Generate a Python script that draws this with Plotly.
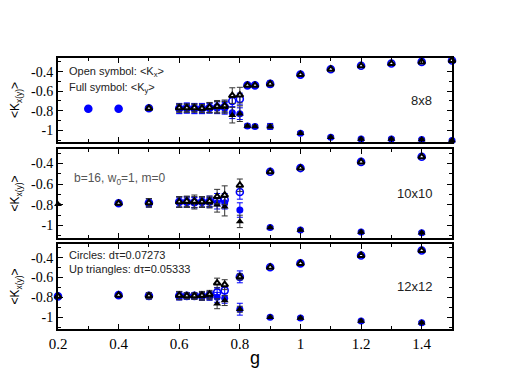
import plotly.graph_objects as go
from plotly.subplots import make_subplots

# ---- 8x8 ----
g8_c = [0.3, 0.4, 0.5, 0.6, 0.625, 0.65, 0.675, 0.7, 0.725, 0.75, 0.775, 0.8, 0.825, 0.85, 0.9, 1.0, 1.1, 1.2, 1.3, 1.4, 1.5]
kx8_c = [-0.78, -0.78, -0.775, -0.775, -0.77, -0.775, -0.775, -0.77, -0.765, -0.76, -0.70, -0.68, -0.54, -0.54, -0.525, -0.43, -0.375, -0.34, -0.317, -0.30, -0.285]
ky8_c = [-0.78, -0.78, -0.775, -0.78, -0.775, -0.78, -0.78, -0.775, -0.77, -0.775, -0.82, -0.83, -0.955, -0.96, -0.96, -1.03, -1.07, -1.09, -1.09, -1.095, -1.105]
e8_c = [0.01, 0.01, 0.02, 0.05, 0.05, 0.05, 0.05, 0.05, 0.06, 0.06, 0.06, 0.06, 0.02, 0.02, 0.03, 0.015, 0.01, 0.01, 0.01, 0.01, 0.01]
g8_t = [0.5, 0.6, 0.625, 0.65, 0.675, 0.7, 0.725, 0.75, 0.775, 0.8, 0.825, 0.85, 0.9, 1.0, 1.1, 1.2, 1.3, 1.4, 1.5]
kx8_t = [-0.775, -0.77, -0.77, -0.77, -0.775, -0.765, -0.755, -0.75, -0.645, -0.64, -0.54, -0.54, -0.525, -0.43, -0.375, -0.34, -0.317, -0.30, -0.285]
ky8_t = [-0.775, -0.775, -0.775, -0.775, -0.78, -0.77, -0.765, -0.765, -0.845, -0.83, -0.955, -0.96, -0.96, -1.03, -1.07, -1.09, -1.09, -1.095, -1.105]
e8_t = [0.02, 0.04, 0.04, 0.04, 0.04, 0.05, 0.06, 0.06, 0.08, 0.08, 0.01, 0.01, 0.02, 0.01, 0.01, 0.01, 0.01, 0.01, 0.01]

# ---- 10x10 ----
g10_c = [0.4, 0.5, 0.6, 0.625, 0.65, 0.675, 0.7, 0.725, 0.75, 0.8, 0.9, 1.0, 1.2, 1.4]
kx10_c = [-0.785, -0.78, -0.77, -0.77, -0.775, -0.77, -0.765, -0.75, -0.75, -0.675, -0.48, -0.444, -0.384, -0.334]
ky10_c = [-0.785, -0.78, -0.775, -0.775, -0.78, -0.775, -0.775, -0.78, -0.78, -0.85, -1.02, -1.044, -1.063, -1.07]
e10_c = [0.015, 0.04, 0.05, 0.05, 0.05, 0.05, 0.05, 0.06, 0.06, 0.07, 0.01, 0.01, 0.01, 0.01]
g10_t = [0.2, 0.4, 0.5, 0.6, 0.625, 0.65, 0.675, 0.7, 0.725, 0.75, 0.8, 0.9, 1.0, 1.2, 1.4]
kx10_t = [None, -0.785, -0.78, -0.77, -0.765, -0.765, -0.77, -0.765, -0.72, -0.706, -0.61, -0.48, -0.444, -0.384, -0.334]
ky10_t = [-0.795, -0.785, -0.78, -0.775, -0.775, -0.78, -0.775, -0.78, -0.8, -0.817, -0.96, -1.02, -1.044, -1.063, -1.07]
e10_t = [0.005, 0.015, 0.04, 0.05, 0.05, 0.06, 0.05, 0.05, 0.07, 0.09, 0.06, 0.01, 0.01, 0.01, 0.01]

# ---- 12x12 ----
g12_c = [0.2, 0.4, 0.5, 0.6, 0.625, 0.65, 0.675, 0.7, 0.725, 0.75, 0.8, 0.9, 1.0, 1.2, 1.4]
kx12_c = [-0.79, -0.778, -0.785, -0.785, -0.785, -0.785, -0.785, -0.78, -0.75, -0.73, -0.593, -0.496, -0.457, -0.377, -0.326]
ky12_c = [-0.79, -0.778, -0.785, -0.785, -0.79, -0.79, -0.79, -0.79, -0.80, -0.81, -0.92, -1.0, -1.01, -1.04, -1.057]
e12_c = [0.01, 0.01, 0.03, 0.04, 0.03, 0.03, 0.04, 0.04, 0.05, 0.05, 0.06, 0.01, 0.01, 0.01, 0.01]
g12_t = [0.2, 0.4, 0.5, 0.6, 0.625, 0.65, 0.675, 0.7, 0.725, 0.75, 0.8, 0.9, 1.0, 1.2, 1.4]
kx12_t = [-0.79, -0.778, -0.785, -0.78, -0.785, -0.785, -0.78, -0.77, -0.656, -0.672, -0.593, -0.496, -0.457, -0.377, -0.326]
ky12_t = [-0.79, -0.778, -0.785, -0.785, -0.785, -0.79, -0.79, -0.785, -0.865, -0.833, -0.92, -1.0, -1.01, -1.04, -1.057]
e12_t = [0.005, 0.01, 0.03, 0.04, 0.03, 0.03, 0.04, 0.04, 0.05, 0.05, 0.03, 0.01, 0.01, 0.01, 0.01]

panels = [
    (g8_c, kx8_c, ky8_c, e8_c, g8_t, kx8_t, ky8_t, e8_t),
    (g10_c, kx10_c, ky10_c, e10_c, g10_t, kx10_t, ky10_t, e10_t),
    (g12_c, kx12_c, ky12_c, e12_c, g12_t, kx12_t, ky12_t, e12_t),
]
size_labels = ['8x8', '10x10', '12x12']

x_ticks = [0.2, 0.4, 0.6, 0.8, 1.0, 1.2, 1.4]
x_ticktext = ['0.2', '0.4', '0.6', '0.8', '1', '1.2', '1.4']
y_ticks = [-1.0, -0.8, -0.6, -0.4]
y_ticktext = ['-1', '-0.8', '-0.6', '-0.4']

BLUE = '#0000ff'
SERIF = 'Liberation Serif'
SANS = 'Liberation Sans'
fig = make_subplots(rows=3, cols=1, shared_xaxes=True)

for i, (gc, kxc, kyc, ec, gt, kxt, kyt, et) in enumerate(panels):
    r = i + 1
    # circles: filled = Ky, open = Kx
    fig.add_trace(go.Scatter(x=gc, y=kyc, mode='markers', cliponaxis=False,
                             marker=dict(symbol='circle', size=7, color=BLUE),
                             error_y=dict(type='data', array=ec, color=BLUE, thickness=1, width=3)),
                  row=r, col=1)
    fig.add_trace(go.Scatter(x=gc, y=kxc, mode='markers', cliponaxis=False,
                             marker=dict(symbol='circle-open', size=7, color=BLUE, line=dict(width=1.6)),
                             error_y=dict(type='data', array=ec, color=BLUE, thickness=1, width=3)),
                  row=r, col=1)
    # triangles: filled = Ky, open = Kx
    fig.add_trace(go.Scatter(x=gt, y=kyt, mode='markers', cliponaxis=False,
                             marker=dict(symbol='triangle-up', size=7, color='black'),
                             error_y=dict(type='data', array=et, color='#333333', thickness=1, width=3)),
                  row=r, col=1)
    fig.add_trace(go.Scatter(x=gt, y=kxt, mode='markers', cliponaxis=False,
                             marker=dict(symbol='triangle-up', size=6, color='white',
                                         line=dict(color='black', width=2)),
                             error_y=dict(type='data', array=et, color='#333333', thickness=1, width=3)),
                  row=r, col=1)

domains = [[0.690, 1.0], [0.336, 0.664], [0.0, 0.314]]
axis_common = dict(showline=True, linecolor='black', linewidth=2, mirror='allticks',
                   ticks='inside', ticklen=5, tickcolor='black', showgrid=False, zeroline=False,
                   automargin=False)
for i in range(3):
    r = i + 1
    fig.update_xaxes(range=[0.2, 1.5], tickvals=x_ticks, ticktext=x_ticktext,
                     showticklabels=(r == 3),
                     tickfont=dict(family=SERIF, size=15, color='black'),
                     minor=dict(dtick=0.1, tick0=0, ticks='inside', ticklen=3, tickcolor='black'),
                     row=r, col=1, **axis_common)
    fig.update_yaxes(range=[-1.12, -0.26], tickvals=y_ticks, ticktext=y_ticktext,
                     domain=domains[i],
                     tickfont=dict(family=SERIF, size=14, color='black'),
                     minor=dict(dtick=0.1, tick0=0, ticks='inside', ticklen=3, tickcolor='black'),
                     title=dict(text='&lt;K<sub>x(y)</sub>&gt;', standoff=12,
                                font=dict(family=SANS, size=12, color='black')),
                     row=r, col=1, **axis_common)
    fig.add_annotation(text=size_labels[i], xref='x domain', yref='y domain',
                       x=0.955, y=0.5, xanchor='right', yanchor='middle', showarrow=False,
                       font=dict(family=SANS, size=13, color='#222222'),
                       row=r, col=1)

fig.update_xaxes(title=dict(text='g', standoff=0,
                            font=dict(family=SANS, size=18, color='black')),
                 row=3, col=1)

txt_font = dict(family=SANS, size=11, color='#222222')
fig.add_annotation(text='Open symbol: &lt;K<sub>x</sub>&gt;', xref='x domain', yref='y domain',
                   x=0.022, y=0.83, xanchor='left', yanchor='middle', showarrow=False,
                   font=txt_font, row=1, col=1)
fig.add_annotation(text='Full symbol: &lt;K<sub>y</sub>&gt;', xref='x domain', yref='y domain',
                   x=0.022, y=0.64, xanchor='left', yanchor='middle', showarrow=False,
                   font=txt_font, row=1, col=1)
fig.add_annotation(text='b=16, w<sub>0</sub>=1, m=0', xref='x domain', yref='y domain',
                   x=0.035, y=0.66, xanchor='left', yanchor='middle', showarrow=False,
                   font=dict(family=SANS, size=12, color='#555555'), row=2, col=1)
fig.add_annotation(text='Circles: d\u03c4=0.07273', xref='x domain', yref='y domain',
                   x=0.022, y=0.87, xanchor='left', yanchor='middle', showarrow=False,
                   font=txt_font, row=3, col=1)
fig.add_annotation(text='Up triangles: d\u03c4=0.05333', xref='x domain', yref='y domain',
                   x=0.022, y=0.71, xanchor='left', yanchor='middle', showarrow=False,
                   font=txt_font, row=3, col=1)

# the page body adds an 8px margin, so the figure is made 8px smaller on each side
fig.update_layout(
    width=504, height=380,
    margin=dict(l=50, r=60, t=50, b=59),
    plot_bgcolor='#FFFFFF',
    paper_bgcolor='#FFFFFF',
    showlegend=False,
)

fig.write_html("out.html")
